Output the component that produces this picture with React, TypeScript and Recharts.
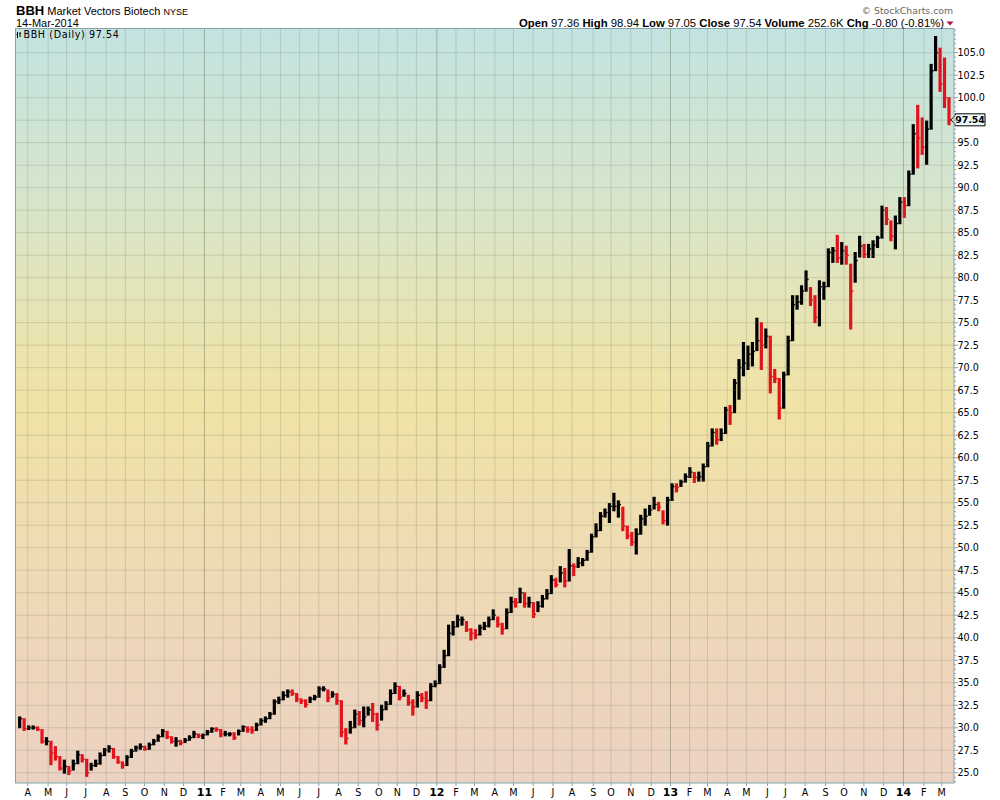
import React from 'react';
import { ComposedChart, Bar, XAxis, YAxis, ReferenceLine } from 'recharts';

// ---- Weekly HLC values (weeks ending Fri 19-Mar-2010 … 14-Mar-2014) ----
const highs = [
  31.2, 31.0, 30.2, 30.2, 30.1, 29.8, 28.9, 28.5, 27.9, 26.8,
  26.4, 25.7, 26.4, 27.4, 27.0, 26.5, 26.05, 26.4, 27.2, 27.7,
  28.0, 27.7, 26.8, 26.2, 26.9, 27.6, 27.95, 28.2, 27.95, 28.3,
  28.7, 29.2, 29.8, 29.6, 29.0, 28.9, 28.6, 28.8, 29.1, 29.6,
  29.3, 29.3, 29.7, 30.0, 30.0, 29.8, 29.6, 29.45, 29.45, 29.75,
  30.2, 30.1, 30.1, 30.5, 31.0, 31.2, 31.7, 33.1, 33.4, 34.0,
  34.2, 34.2, 33.8, 33.2, 33.1, 33.4, 33.6, 34.55, 34.55, 34.2,
  34.0, 33.8, 33.0, 29.9, 30.7, 31.96, 31.8, 32.3, 32.3, 32.7,
  31.6, 32.5, 32.9, 34.2, 35.0, 34.6, 34.2, 33.6, 33.1, 34.0,
  33.8, 34.0, 34.9, 35.2, 37.0, 38.6, 41.4, 41.8, 42.5, 42.3,
  41.8, 41.0, 40.9, 41.4, 41.7, 42.3, 43.1, 42.3, 41.6, 43.2,
  44.5, 44.35, 45.5, 45.0, 44.5, 43.9, 44.0, 44.7, 45.35, 46.9,
  46.6, 47.9, 47.7, 49.8, 48.2, 48.9, 48.8, 49.7, 51.5, 52.65,
  53.9, 54.3, 54.9, 56.05, 55.2, 54.5, 52.4, 51.7, 52.1, 53.6,
  54.3, 54.7, 55.6, 55.05, 54.1, 55.6, 57.1, 57.1, 57.5, 58.2,
  58.9, 58.35, 58.4, 59.3, 61.7, 63.2, 63.2, 63.2, 65.6, 65.8,
  68.7, 70.9, 72.8, 72.4, 72.8, 75.5, 75.0, 74.3, 73.5, 69.8,
  68.8, 69.5, 73.5, 78.0, 78.0, 79.1, 80.75, 78.9, 78.0, 79.65,
  79.5, 83.2, 83.35, 84.7, 83.9, 83.5, 81.5, 82.8, 84.6, 83.7,
  83.7, 84.1, 84.6, 87.95, 87.8, 86.3, 86.85, 88.9, 88.9, 91.85,
  97.0, 99.15, 97.75, 97.4, 103.7, 106.8, 105.5, 104.4, 100.0,
];

const lows = [
  30.0, 29.7, 29.8, 29.85, 29.7, 28.3, 28.1, 25.9, 26.4, 25.3,
  24.95, 24.8, 25.3, 26.0, 26.2, 24.6, 25.3, 25.7, 25.95, 26.9,
  27.3, 26.6, 26.05, 25.5, 25.8, 26.7, 27.4, 27.6, 27.5, 27.6,
  28.1, 28.5, 29.0, 28.8, 28.3, 27.95, 28.1, 28.35, 28.6, 28.9,
  28.9, 28.8, 29.2, 29.5, 29.6, 29.0, 29.1, 29.1, 28.7, 29.2,
  29.6, 29.5, 29.4, 29.7, 30.3, 30.6, 31.0, 31.5, 32.7, 33.1,
  33.4, 33.6, 32.9, 32.7, 32.3, 32.8, 33.1, 33.4, 34.1, 32.9,
  33.4, 32.6, 29.0, 28.2, 29.4, 30.0, 30.3, 30.1, 31.4, 30.7,
  29.74, 30.85, 32.0, 32.6, 33.8, 33.1, 33.5, 32.5, 31.4, 32.3,
  32.9, 32.15, 33.0, 34.55, 34.9, 36.7, 38.0, 40.3, 41.2, 41.4,
  40.7, 39.75, 39.9, 40.3, 40.9, 41.2, 42.0, 41.2, 40.4, 41.0,
  42.8, 43.4, 43.9, 43.4, 43.4, 42.25, 42.9, 43.4, 44.3, 44.9,
  45.65, 46.2, 45.65, 46.3, 46.9, 47.8, 48.0, 48.6, 49.5, 51.2,
  51.9, 53.4, 52.8, 54.1, 53.4, 51.9, 51.0, 50.25, 49.3, 51.5,
  52.5, 53.6, 54.3, 54.1, 52.65, 52.5, 55.25, 56.2, 56.8, 57.3,
  57.8, 57.25, 57.4, 57.4, 59.0, 61.3, 61.5, 61.9, 62.7, 63.7,
  65.0, 66.5, 69.1, 69.8, 70.2, 71.9, 69.8, 72.2, 67.2, 68.35,
  64.3, 65.5, 69.2, 73.0, 76.5, 77.05, 78.5, 76.9, 75.0, 74.65,
  77.6, 79.0, 81.7, 81.7, 81.5, 81.5, 74.3, 79.5, 82.3, 82.25,
  82.25, 82.25, 83.35, 84.4, 85.9, 84.1, 83.2, 86.0, 86.7, 88.0,
  91.5, 92.2, 93.7, 92.6, 96.5, 103.0, 100.7, 98.9, 97.0,
];

const closes = [
  31.0, 29.9, 30.0, 30.0, 29.8, 28.5, 28.5, 27.2, 26.8, 25.5,
  25.7, 25.2, 26.0, 27.0, 26.5, 25.0, 25.8, 26.0, 26.9, 27.5,
  27.7, 26.8, 26.2, 25.8, 26.7, 27.4, 27.8, 27.9, 27.6, 28.1,
  28.5, 29.0, 29.6, 29.0, 28.5, 28.5, 28.3, 28.6, 28.9, 29.3,
  29.1, 29.2, 29.5, 29.9, 29.8, 29.3, 29.3, 29.3, 28.9, 29.6,
  30.1, 29.8, 29.7, 30.3, 30.8, 31.0, 31.5, 32.9, 33.1, 33.6,
  34.0, 33.8, 33.2, 33.0, 32.6, 33.2, 33.4, 34.3, 34.3, 33.3,
  33.7, 33.0, 29.5, 28.8, 30.0, 31.5, 30.8, 31.2, 32.0, 31.5,
  30.3, 32.0, 32.6, 33.8, 34.6, 33.4, 33.8, 32.8, 32.3, 33.6,
  33.3, 33.0, 34.6, 34.9, 36.7, 38.0, 40.5, 41.2, 42.0, 42.0,
  40.9, 40.5, 40.3, 41.1, 41.3, 42.0, 42.5, 41.5, 41.0, 42.8,
  44.0, 43.9, 45.0, 43.8, 43.9, 42.6, 43.5, 44.3, 44.9, 46.4,
  45.9, 47.2, 46.3, 48.0, 47.9, 48.3, 48.6, 49.5, 51.2, 51.9,
  53.5, 53.9, 54.6, 54.6, 54.8, 52.4, 51.3, 50.6, 51.5, 53.2,
  53.5, 54.2, 54.8, 54.5, 53.0, 55.3, 56.8, 56.7, 57.3, 57.9,
  58.4, 57.8, 57.9, 59.0, 61.3, 62.8, 62.0, 62.7, 65.3, 65.0,
  68.3, 70.0, 70.5, 71.5, 71.8, 73.0, 72.5, 73.5, 69.0, 68.8,
  65.5, 69.2, 73.0, 77.0, 77.3, 78.5, 79.8, 77.5, 75.6, 79.0,
  79.0, 82.8, 83.0, 82.2, 83.0, 82.5, 78.5, 81.9, 83.5, 82.6,
  83.2, 83.6, 84.4, 87.5, 86.5, 84.6, 86.0, 88.4, 88.0, 91.5,
  96.0, 95.5, 94.5, 96.5, 103.0, 105.0, 101.5, 100.0, 97.54,
];

// ---- Axis labels ----
const monthLabels = [
  'A', 'M', 'J', 'J', 'A', 'S', 'O', 'N', 'D',
  '11', 'F', 'M', 'A', 'M', 'J', 'J', 'A', 'S', 'O', 'N', 'D',
  '12', 'F', 'M', 'A', 'M', 'J', 'J', 'A', 'S', 'O', 'N', 'D',
  '13', 'F', 'M', 'A', 'M', 'J', 'J', 'A', 'S', 'O', 'N', 'D',
  '14', 'F', 'M',
];
const yLabels = [
  25.0, 27.5, 30.0, 32.5, 35.0, 37.5, 40.0, 42.5, 45.0, 47.5, 50.0,
  52.5, 55.0, 57.5, 60.0, 62.5, 65.0, 67.5, 70.0, 72.5, 75.0, 77.5,
  80.0, 82.5, 85.0, 87.5, 90.0, 92.5, 95.0, 97.5, 100.0, 102.5, 105.0,
];

// ---- Header text ----
const symbol = 'BBH';
const fullName = 'Market Vectors Biotech';
const exchange = 'NYSE';
const dateText = '14-Mar-2014';
const lastDay = { open: '97.36', high: '98.94', low: '97.05', close: '97.54', volume: '252.6K', chg: '-0.80 (-0.81%)' };

// ---- Layout ----
const WIDTH = 1000;
const HEIGHT = 800;
const M_LEFT = 16;
const M_TOP = 29;
const Y_AXIS_W = 46;
const X_AXIS_H = 17;
const PLOT_W = WIDTH - M_LEFT - Y_AXIS_W;
const PLOT_H = HEIGHT - M_TOP - X_AXIS_H;

const FIRST_WEEK = Date.UTC(2010, 2, 19);
const WEEK_MS = 7 * 86400000;
const X_DOMAIN: [number, number] = [-0.76, 209.18];
const Y_DOMAIN: [number, number] = [23.86, 107.63];

const lastClose = closes[closes.length - 1];

const weeks = highs.map((h, i) => ({
  w: i,
  hl: [lows[i], h],
  high: h,
  low: lows[i],
  close: closes[i],
  down: i > 0 && closes[i] < closes[i - 1],
}));

const monthTicks = monthLabels.map((label, k) => {
  const mIdx = 3 + k;
  const year = 2010 + Math.floor(mIdx / 12);
  const month = mIdx % 12;
  let t = Date.UTC(year, month, month === 0 ? 2 : 1);
  while ([0, 6].includes(new Date(t).getUTCDay())) t += 86400000;
  return { pos: (t - FIRST_WEEK) / WEEK_MS, label, isYear: month === 0 };
});
const monthTickPositions = monthTicks.map((t) => t.pos);
const yMinorTicks = Array.from({ length: 168 }, (_, k) => 24 + k * 0.5);

const AXIS_COLOR = '#86a3ad';
const GRID_COLOR = 'rgba(105,115,85,0.22)';
const YEAR_GRID_COLOR = 'rgba(95,105,75,0.42)';
const UP_COLOR = '#000000';
const DOWN_COLOR = '#e4121b';

const HLCBar = (props: any) => {
  const { x, y, width, height, payload } = props;
  if (x == null || y == null) return null;
  const top = Math.min(y, y + height);
  const h = Math.abs(height);
  const cx = x + width / 2;
  const color = payload.down ? DOWN_COLOR : UP_COLOR;
  const span = payload.high - payload.low || 1;
  const cy = top + (h * (payload.high - payload.close)) / span;
  return (
    <g>
      <line x1={cx} x2={cx} y1={top - 0.5} y2={top + h + 0.5} stroke={color} strokeWidth={3.2} />
      <line x1={cx} x2={cx + 2.6} y1={cy} y2={cy} stroke={color} strokeWidth={1.4} />
    </g>
  );
};

const YTick = (props: any) => {
  const { x, y, payload } = props;
  const v = payload.value as number;
  const major = Math.abs(v / 2.5 - Math.round(v / 2.5)) < 1e-6 && v >= 25 && v <= 105;
  const hiddenByTag = Math.abs(v - lastClose) < 1.2;
  return (
    <g>
      <line x1={x} x2={x + (major ? 4 : 2)} y1={y} y2={y} stroke={AXIS_COLOR} strokeWidth={1} />
      {major && !hiddenByTag && (
        <text x={x + 3.5} y={y} dy="0.36em" fontSize={9.6} fontFamily="DejaVu Sans, Verdana, sans-serif" fill="#000">
          {v.toFixed(1)}
        </text>
      )}
    </g>
  );
};

const XTick = (props: any) => {
  const { x, y, payload } = props;
  const t = monthTicks.find((m) => Math.abs(m.pos - payload.value) < 1e-6);
  if (!t) return null;
  return (
    <g>
      <line x1={x} x2={x} y1={y} y2={y + 3} stroke={AXIS_COLOR} strokeWidth={1} />
      <text
        x={x}
        y={y + 13}
        textAnchor="middle"
        fontSize={t.isYear ? 11 : 9.6}
        fontWeight={t.isYear ? 'bold' : 'normal'}
        fontFamily="DejaVu Sans, Verdana, sans-serif"
        fill="#000"
      >
        {t.label}
      </text>
    </g>
  );
};

const PriceTag = ({ viewBox, value }: any) => {
  if (!viewBox) return null;
  const rx = viewBox.x + viewBox.width;
  const y = viewBox.y;
  const pts = [
    [rx - 3, y],
    [rx + 1, y - 4],
    [rx + 1, y - 6],
    [rx + 31, y - 6],
    [rx + 31, y + 6],
    [rx + 1, y + 6],
    [rx + 1, y + 4],
  ]
    .map((p) => p.join(','))
    .join(' ');
  return (
    <g>
      <polygon points={pts} fill="#eefafa" stroke="#000" strokeWidth={1} />
      <text x={rx + 16} y={y} dy="0.36em" textAnchor="middle" fontSize={9.4} fontWeight="bold" fontFamily="DejaVu Sans, Verdana, sans-serif" fill="#000">
        {value}
      </text>
    </g>
  );
};

export default function App() {
  const headerFont = 'Liberation Sans, Arial, sans-serif';
  return (
    <div style={{ position: 'absolute', left: 0, top: 0, width: WIDTH, height: HEIGHT, background: '#fff' }}>
      <div
        style={{
          position: 'absolute',
          left: M_LEFT,
          top: M_TOP,
          width: PLOT_W,
          height: PLOT_H,
          background:
            'linear-gradient(to bottom, #c3e3e1 0%, #d6e5cc 22%, #e9e4b2 40%, #f0e3a6 50%, #efdcb2 68%, #edd5bd 86%, #ecd2c2 100%)',
        }}
      />
      <div style={{ position: 'absolute', left: 0, top: 0 }}>
        <ComposedChart
          width={WIDTH}
          height={HEIGHT}
          data={weeks}
          margin={{ top: M_TOP, right: 0, bottom: 0, left: M_LEFT }}
        >
          <XAxis
            dataKey="w"
            type="number"
            domain={X_DOMAIN}
            allowDataOverflow
            ticks={monthTickPositions}
            interval={0}
            tick={<XTick />}
            tickLine={false}
            axisLine={false}
            tickSize={0}
            tickMargin={0}
            height={X_AXIS_H}
          />
          <YAxis
            orientation="right"
            type="number"
            domain={Y_DOMAIN}
            allowDataOverflow
            ticks={yMinorTicks}
            interval={0}
            tick={<YTick />}
            tickLine={false}
            axisLine={false}
            tickSize={0}
            tickMargin={0}
            width={Y_AXIS_W}
          />
          {yLabels.map((v) => (
            <ReferenceLine key={'h' + v} y={v} stroke={GRID_COLOR} strokeWidth={1} />
          ))}
          {monthTicks.map((t) => (
            <ReferenceLine key={'v' + t.pos} x={t.pos} stroke={t.isYear ? YEAR_GRID_COLOR : GRID_COLOR} strokeWidth={1} />
          ))}
          <Bar dataKey="hl" barSize={3} isAnimationActive={false} shape={(p: any) => <HLCBar {...p} />} />
          <ReferenceLine
            y={lastClose}
            stroke="none"
            ifOverflow="visible"
            label={(p: any) => <PriceTag viewBox={p.viewBox} value={lastClose.toFixed(2)} />}
          />
        </ComposedChart>
      </div>
      <svg
        width={WIDTH}
        height={HEIGHT}
        style={{ position: 'absolute', left: 0, top: 0, pointerEvents: 'none' }}
      >
        <rect x={M_LEFT - 0.5} y={M_TOP - 0.5} width={PLOT_W + 0.5} height={PLOT_H + 0.5} fill="none" stroke={AXIS_COLOR} strokeWidth={1} />
        <text x={16} y={14.5} fontFamily={headerFont} fill="#000">
          <tspan fontSize={13} fontWeight="bold">{symbol}</tspan>
          <tspan fontSize={11}> {fullName} </tspan>
          <tspan fontSize={9}>{exchange}</tspan>
        </text>
        <text x={16} y={26.5} fontFamily={headerFont} fontSize={11} fill="#000">
          {dateText}
        </text>
        <text x={953} y={14} textAnchor="end" fontFamily="DejaVu Sans, Verdana, sans-serif" fontSize={9.3} fill="#666">
          © StockCharts.com
        </text>
        <text x={944} y={26.5} textAnchor="end" fontFamily={headerFont} fontSize={11.3} fill="#000">
          <tspan fontWeight="bold">Open</tspan>
          <tspan> {lastDay.open}  </tspan>
          <tspan fontWeight="bold">High</tspan>
          <tspan> {lastDay.high}  </tspan>
          <tspan fontWeight="bold">Low</tspan>
          <tspan> {lastDay.low}  </tspan>
          <tspan fontWeight="bold">Close</tspan>
          <tspan> {lastDay.close}  </tspan>
          <tspan fontWeight="bold">Volume</tspan>
          <tspan> {lastDay.volume}  </tspan>
          <tspan fontWeight="bold">Chg</tspan>
          <tspan> {lastDay.chg}</tspan>
        </text>
        <polygon points="946.5,21.5 953.5,21.5 950,25.5" fill="#b5123e" />
        <g stroke="#000" strokeWidth={1}>
          <line x1={17.5} x2={17.5} y1={32} y2={38} />
          <line x1={16.5} x2={17.5} y1={34.5} y2={34.5} />
          <line x1={20} x2={20} y1={32} y2={37} />
          <line x1={20} x2={21} y1={33.5} y2={33.5} />
        </g>
        <text x={23.5} y={37.5} fontFamily="DejaVu Sans, Verdana, sans-serif" fontSize={9.6} fill="#000" letterSpacing={0.6}>
          {symbol} (Daily) {lastClose.toFixed(2)}
        </text>
      </svg>
    </div>
  );
}
